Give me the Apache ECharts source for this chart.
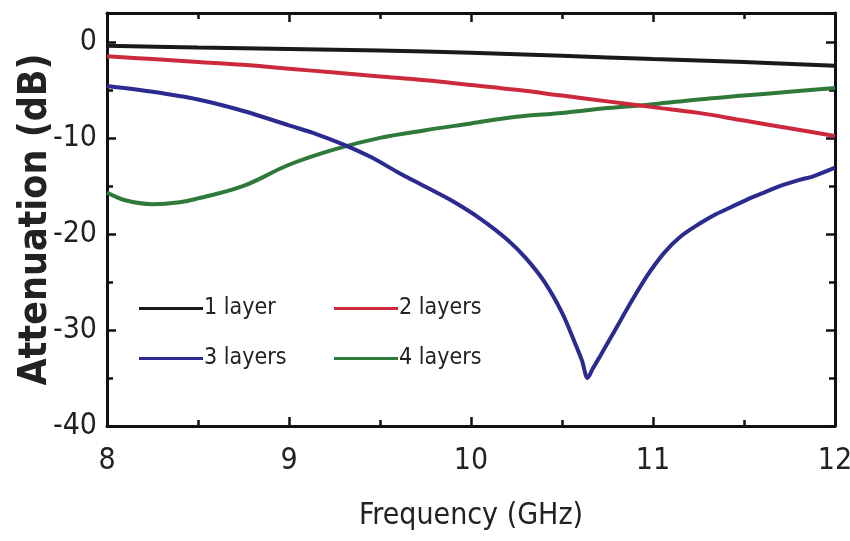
<!DOCTYPE html>
<html>
<head>
<meta charset="utf-8">
<script src="https://cdn.jsdelivr.net/npm/echarts@6/dist/echarts.min.js"></script>
<style>html,body{margin:0;padding:0;background:#fff}#c{width:850px;height:541px}</style>
</head>
<body>
<div id="c"></div>
<script>
var seriesNames = ['1 layer', '2 layers', '3 layers', '4 layers'];
var xTicks = [8, 9, 10, 11, 12];
var yTicks = [-40, -30, -20, -10, 0];

var freq1 = [8, 8.5, 9, 9.5, 10, 10.5, 11, 11.5, 12];
var att1  = [-0.4, -0.6, -0.75, -0.9, -1.15, -1.45, -1.8, -2.1, -2.5];

var freq2 = [8, 8.25, 8.5, 8.75, 9, 9.25, 9.5, 9.75, 10, 10.25, 10.5, 10.75, 11, 11.25, 11.5, 11.75, 12];
var att2  = [-1.5, -1.8, -2.1, -2.4, -2.8, -3.2, -3.6, -4.0, -4.5, -5.0, -5.6, -6.2, -6.8, -7.4, -8.2, -9.0, -9.8];

var freq3 = [8, 8.25, 8.5, 8.75, 9, 9.15, 9.3, 9.45, 9.6, 9.75, 9.9, 10.05, 10.2, 10.3, 10.4, 10.5, 10.57, 10.61, 10.64, 10.67, 10.71, 10.78, 10.87, 10.97, 11.06, 11.15, 11.25, 11.33, 11.43, 11.52, 11.61, 11.7, 11.8, 11.88, 12];
var att3  = [-4.6, -5.2, -6.0, -7.2, -8.7, -9.6, -10.7, -12.0, -13.6, -15.1, -16.6, -18.4, -20.6, -22.5, -24.9, -28.2, -31.3, -33.2, -35.0, -34.0, -32.7, -30.4, -27.4, -24.3, -22.0, -20.3, -19.0, -18.1, -17.2, -16.4, -15.7, -15.0, -14.4, -14.0, -13.1];

var freq4 = [8, 8.1, 8.25, 8.4, 8.5, 8.75, 9, 9.25, 9.5, 9.75, 10, 10.25, 10.5, 10.75, 11, 11.25, 11.5, 11.75, 12];
var att4  = [-15.7, -16.5, -16.9, -16.7, -16.3, -15.0, -12.8, -11.2, -10.0, -9.2, -8.5, -7.8, -7.4, -6.9, -6.5, -6.0, -5.6, -5.2, -4.8];

var colors = ['#1a1a1a', '#cc2a3c', '#2b2a8e', '#2f7a3a'];

function zip(xs, ys) { return xs.map(function (x, i) { return [x, ys[i]]; }); }

var FONT = "'DejaVu Sans Condensed', 'Liberation Sans', sans-serif";

var chart = echarts.init(document.getElementById('c'), null, {renderer: 'canvas'});

var axisCommon = {
  axisLine: {show: true, onZero: false, lineStyle: {color: '#111', width: 3}},
  axisTick: {show: true, inside: true, length: 9, lineStyle: {color: '#111', width: 2.5}},
  minorTick: {show: true, splitNumber: 2, length: 6, lineStyle: {color: '#111', width: 2.5}},
  splitLine: {show: false}
};

var legendText = {fontFamily: FONT, fontSize: 23, color: '#222', padding: [0, 0, 0, -4]};

var option = {
  backgroundColor: '#fff',
  animation: false,
  color: colors,
  grid: {left: 107, right: 15, top: 13, bottom: 115, containLabel: false, outerBoundsMode: 'none'},
  legend: [
    {
      data: [seriesNames[0], seriesNames[2]],
      orient: 'vertical', left: 134, top: 292,
      itemWidth: 64, itemHeight: 14, itemGap: 27,
      icon: 'path://M0,6 L64,6 L64,9 L0,9 Z',
      textStyle: legendText
    },
    {
      data: [seriesNames[1], seriesNames[3]],
      orient: 'vertical', left: 329, top: 292,
      itemWidth: 64, itemHeight: 14, itemGap: 27,
      icon: 'path://M0,6 L64,6 L64,9 L0,9 Z',
      textStyle: legendText
    }
  ],
  xAxis: [
    Object.assign({}, axisCommon, {
      type: 'value', position: 'bottom', min: 8, max: 12, interval: 1,
      name: 'Frequency (GHz)', nameLocation: 'middle', nameGap: 75, nameMoveOverlap: false,
      nameTextStyle: {fontFamily: FONT, fontSize: 30, color: '#222'},
      axisLabel: {fontFamily: FONT, fontSize: 30, color: '#222', margin: 20,
        formatter: function (v) { return xTicks.indexOf(v) >= 0 ? String(v) : ''; }}
    }),
    Object.assign({}, axisCommon, {
      type: 'value', position: 'top', min: 8, max: 12, interval: 1,
      axisLabel: {show: false}
    })
  ],
  yAxis: [
    Object.assign({}, axisCommon, {
      type: 'value', position: 'left', min: -40, max: 3, interval: 10,
      name: 'Attenuation (dB)', nameLocation: 'middle', nameGap: 52, nameMoveOverlap: false,
      nameTextStyle: {fontFamily: FONT, fontSize: 39, fontWeight: 'bold', color: '#222'},
      axisLabel: {fontFamily: FONT, fontSize: 30, color: '#222', margin: 10,
        formatter: function (v) { return yTicks.indexOf(v) >= 0 ? String(v) : ''; }}
    }),
    Object.assign({}, axisCommon, {
      type: 'value', position: 'right', min: -40, max: 3, interval: 10,
      axisLabel: {show: false}
    })
  ],
  series: [
    {name: seriesNames[0], type: 'line', data: zip(freq1, att1), smooth: 0.4, showSymbol: false, lineStyle: {width: 4}, z: 4},
    {name: seriesNames[1], type: 'line', data: zip(freq2, att2), smooth: 0.4, showSymbol: false, lineStyle: {width: 4}, z: 3},
    {name: seriesNames[2], type: 'line', data: zip(freq3, att3), smooth: 0.3, showSymbol: false, lineStyle: {width: 4}, z: 5},
    {name: seriesNames[3], type: 'line', data: zip(freq4, att4), smooth: 0.4, showSymbol: false, lineStyle: {width: 4}, z: 2}
  ]
};
chart.setOption(option);
</script>
</body>
</html>
